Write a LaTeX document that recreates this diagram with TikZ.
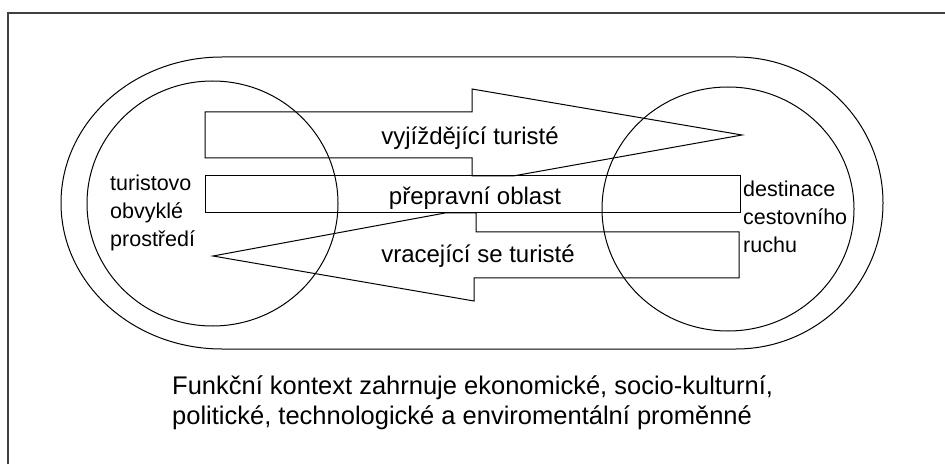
\documentclass[tikz,border=0pt]{standalone}
\usepackage{fontspec}
\setmainfont{Liberation Sans}
\begin{document}
\begin{tikzpicture}[x=1pt,y=1pt,
  line/.style={draw=black,line width=1pt,line join=miter},
  frameline/.style={draw=black!75,line width=1.6pt},
  biglabel/.style={font=\fontsize{24}{28}\selectfont,inner sep=0pt,anchor=base},
  smalllabel/.style={font=\fontsize{21.5}{28}\selectfont,inner sep=0pt,align=left,anchor=north west},
  caption/.style={font=\fontsize{25.5}{30}\selectfont,inner sep=0pt,align=left,anchor=north west}]
\useasboundingbox (0,0) rectangle (945,464);
% frame (only top and left edges visible)
\coordinate (fbl) at (8,0);
\coordinate (ftl) at (8,451);
\coordinate (ftr) at (945,451);
\draw[frameline] (fbl) -- (ftl) -- (ftr);
% outer context (stadium)
\draw[line] (222,407) -- (736,407)
  arc[start angle=90,end angle=-90,x radius=147,y radius=146]
  -- (222,115)
  arc[start angle=270,end angle=90,x radius=161,y radius=146] -- cycle;
% circles
\draw[line] (212.5,260.5) ellipse[x radius=125.5,y radius=122.5];
\draw[line] (728,255) ellipse[x radius=126,y radius=122];
% outgoing arrow
\draw[line] (205,352) -- (472,352) -- (472,375) -- (742,329) -- (513,288) -- (472,288) -- (472,306) -- (205,306) -- cycle;
% transit region
\draw[line] (205,288) rectangle (740,251);
% returning arrow
\draw[line] (739,232) -- (476,232) -- (476,251) -- (445,251) -- (213,208) -- (474,163) -- (474,186) -- (739,186) -- cycle;
% labels
\node[biglabel] (out) at (470,319) {vyjíždějící turisté};
\node[biglabel] (tr) at (475,259) {přepravní oblast};
\node[biglabel] (ret) at (478,201) {vracející se turisté};
\node[smalllabel] (home) at (110,289) {turistovo\\obvyklé\\prostředí};
\node[smalllabel] (dest) at (743,283) {destinace\\cestovního\\ruchu};
\node[caption] (cap) at (172,88) {Funkční kontext zahrnuje ekonomické, socio-kulturní,\\politické, technologické a enviromentální proměnné};
\end{tikzpicture}
\end{document}
